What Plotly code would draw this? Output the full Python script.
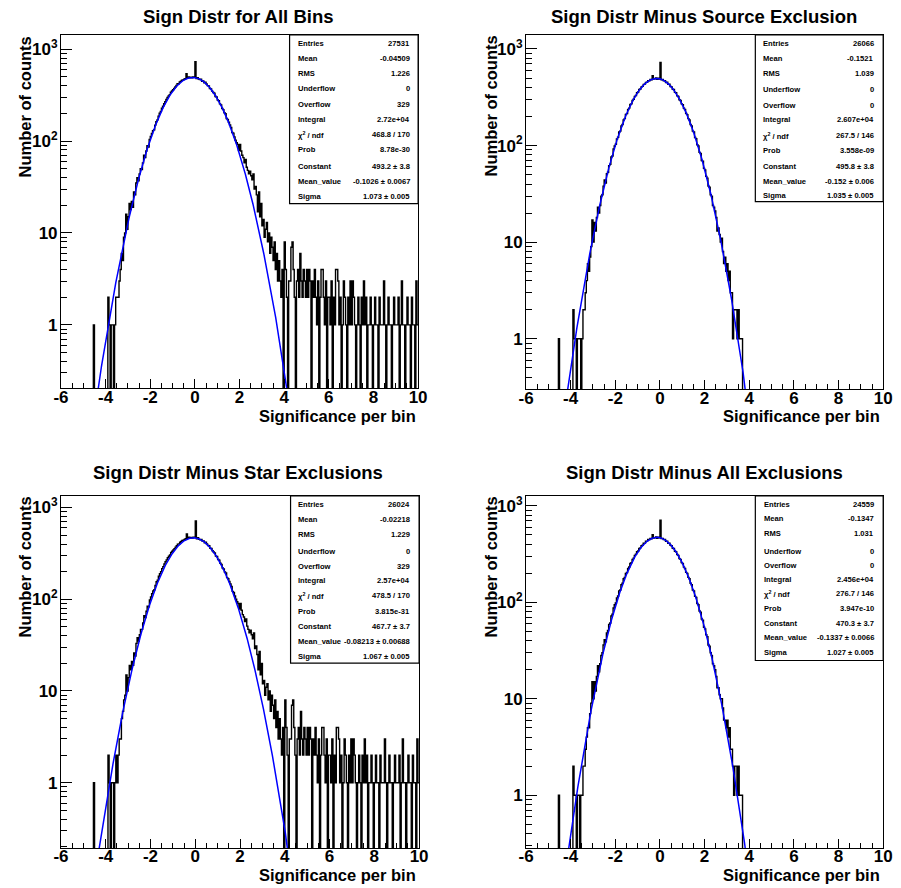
import numpy as np
import plotly.graph_objects as go

W, H = 901, 888

# ---------------- data ----------------
bin_lo, bin_hi, n_bins = -6.0, 10.0, 320

titles = ["Sign Distr for All Bins", "Sign Distr Minus Source Exclusion",
          "Sign Distr Minus Star Exclusions", "Sign Distr Minus All Exclusions"]
x_title = "Significance per bin"
y_title = "Number of counts"

# counts per bin (bin width 0.05, 20 bins per unit of x)
p1_counts = [
    0,0,0,0,0,0,0,0,0,0, 0,0,0,0,0,0,0,0,0,0,
    0,0,0,0,0,0,0,0,0,1, 0,0,0,0,0,0,0,0,0,0,
    0,0,2,1,0,1,1,0,1,2, 2,2,3,4,6,5,9,10,16,11,
    15,21,18,22,19,28,26,35,40,37, 44,50,49,58,70,66,78,89,86,104,
    112,121,130,133,149,163,170,187,201,210, 228,239,255,269,283,298,309,320,341,352,
    362,375,388,402,420,421,441,447,459,462, 470,478,540,486,498,488,497,489,500,493,
    730,478,490,472,466,470,448,452,430,437, 418,401,398,374,370,350,338,331,305,302,
    280,275,254,248,226,220,203,198,176,172, 160,150,141,124,122,111,102,96,92,79,
    92,78,70,66,58,63,52,48,44,47, 42,38,44,30,32,26,17,28,15,21,
    12,14,9,11,13,8,10,6,9,7, 5,8,4,6,3,5,3,2,4,0,
    8,4,2,0,3,3,7,8,4,2, 0,3,4,2,6,3,2,4,3,2,
    4,2,4,3,0,3,2,4,2,1, 3,0,2,4,4,2,1,3,0,2,
    2,1,3,0,2,1,4,4,3,1, 2,0,1,3,2,1,0,2,1,3,
    1,3,2,1,0,1,2,1,0,2, 1,3,1,2,0,1,1,2,1,0,
    1,2,1,1,0,2,1,1,1,3, 1,0,1,2,1,1,0,1,2,1,
    1,1,2,0,1,3,1,1,0,1, 2,1,1,0,2,1,1,0,3,1,
]
p2_counts = [
    0,0,0,0,0,0,0,0,0,0, 0,0,0,0,0,0,0,0,0,0,
    0,0,0,0,0,0,0,0,0,1, 0,0,0,0,0,0,0,0,0,0,
    0,0,2,1,1,0,1,1,1,0, 1,2,2,3,4,6,5,7,9,17,
    10,16,13,18,23,20,24,30,31,38, 44,41,51,53,62,64,76,78,92,99,
    103,117,122,138,141,160,165,184,190,210, 214,236,244,266,270,293,301,322,330,352,
    358,380,385,405,410,430,432,451,452,470, 468,482,478,530,488,490,500,484,498,488,
    725,480,482,468,470,450,452,430,431,408, 405,382,380,355,352,328,322,298,293,270,
    265,243,236,215,209,190,184,165,160,141, 138,121,118,102,99,85,83,70,69,58,
    56,48,46,38,37,31,30,24,23,21, 18,13,14,12,10,11,8,6,7,5,
    6,4,5,3,3,1,2,2,2,1, 2,1,1,1,0,0,0,0,0,0,
    0,0,0,0,0,0,0,0,0,0, 0,0,0,0,0,0,0,0,0,0,
    0,0,0,0,0,0,0,0,0,0, 0,0,0,0,0,0,0,0,0,0,
    0,0,0,0,0,0,0,0,0,0, 0,0,0,0,0,0,0,0,0,0,
    0,0,0,0,0,0,0,0,0,0, 0,0,0,0,0,0,0,0,0,0,
    0,0,0,0,0,0,0,0,0,0, 0,0,0,0,0,0,0,0,0,0,
    0,0,0,0,0,0,0,0,0,0, 0,0,0,0,0,0,0,0,0,0,
]
p3_counts = [
    0,0,0,0,0,0,0,0,0,0, 0,0,0,0,0,0,0,0,0,0,
    0,0,0,0,0,0,0,0,0,1, 0,0,0,0,0,0,0,0,0,0,
    0,0,2,1,0,1,1,0,1,2, 1,2,3,3,5,6,8,9,15,10,
    14,19,17,21,19,26,24,33,38,35, 41,47,47,55,66,63,74,84,83,98,
    106,115,123,127,141,155,161,178,190,200, 216,227,242,256,269,283,294,304,324,334,
    344,356,369,383,399,401,419,426,437,440, 448,456,515,463,474,466,473,466,476,470,
    712,456,468,450,446,449,430,433,412,419, 401,386,383,360,357,338,327,320,295,292,
    271,267,247,240,219,214,198,193,172,168, 156,147,138,122,119,109,100,94,90,78,
    90,76,68,64,57,61,51,47,43,46, 41,37,43,29,31,25,17,27,15,20,
    12,13,9,11,12,8,10,6,9,7, 5,8,4,6,3,5,3,2,4,0,
    8,4,2,0,3,3,7,8,4,2, 0,3,4,2,6,3,2,4,3,2,
    4,2,4,3,0,3,2,4,2,1, 3,0,2,4,4,2,1,3,0,2,
    2,1,3,0,2,1,4,4,3,1, 2,0,1,3,2,1,0,2,1,3,
    1,3,2,1,0,1,2,1,0,2, 1,3,1,2,0,1,1,2,1,0,
    1,2,1,1,0,2,1,1,1,3, 1,0,1,2,1,1,0,1,2,1,
    1,1,2,0,1,3,1,1,0,1, 2,1,1,0,2,1,1,0,3,1,
]
p4_counts = [
    0,0,0,0,0,0,0,0,0,0, 0,0,0,0,0,0,0,0,0,0,
    0,0,0,0,0,0,0,0,0,1, 0,0,0,0,0,0,0,0,0,0,
    0,0,2,1,1,0,1,1,0,1, 1,2,2,3,4,5,5,7,9,15,
    10,15,12,17,22,19,23,28,30,36, 41,39,48,51,59,61,72,75,87,94,
    98,111,116,131,134,152,157,175,181,199, 203,224,232,252,257,278,286,306,314,334,
    340,361,366,385,390,408,410,428,430,446, 445,458,454,500,463,466,475,460,473,464,
    710,456,458,445,446,428,429,409,409,388, 385,363,361,337,334,312,306,283,278,257,
    252,231,224,204,199,181,175,157,152,134, 131,115,112,97,94,81,79,67,65,55,
    53,46,44,36,35,30,28,23,22,20, 17,13,13,11,10,10,8,6,6,5,
    6,4,5,3,3,2,1,2,2,1, 2,1,1,1,0,0,0,0,0,0,
    0,0,0,0,0,0,0,0,0,0, 0,0,0,0,0,0,0,0,0,0,
    0,0,0,0,0,0,0,0,0,0, 0,0,0,0,0,0,0,0,0,0,
    0,0,0,0,0,0,0,0,0,0, 0,0,0,0,0,0,0,0,0,0,
    0,0,0,0,0,0,0,0,0,0, 0,0,0,0,0,0,0,0,0,0,
    0,0,0,0,0,0,0,0,0,0, 0,0,0,0,0,0,0,0,0,0,
    0,0,0,0,0,0,0,0,0,0, 0,0,0,0,0,0,0,0,0,0,
]

# Gaussian fit parameters (Constant, Mean_value, Sigma)
fit_constant = [493.2, 495.8, 467.7, 470.3]
fit_mean = [-0.1026, -0.152, -0.08213, -0.1337]
fit_sigma = [1.073, 1.035, 1.067, 1.027]

stat_labels = ["Entries", "Mean", "RMS", "Underflow", "Overflow", "Integral",
               "\u03c7<sup>2</sup> / ndf", "Prob", "Constant", "Mean_value", "Sigma"]
p1_stats = ["27531", "-0.04509", "1.226", "0", "329", "2.72e+04", "468.8 / 170",
            "8.78e-30", "493.2 \u00b1 3.8", "-0.1026 \u00b1 0.0067", "1.073 \u00b1 0.005"]
p2_stats = ["26066", "-0.1521", "1.039", "0", "0", "2.607e+04", "267.5 / 146",
            "3.558e-09", "495.8 \u00b1 3.8", "-0.152 \u00b1 0.006", "1.035 \u00b1 0.005"]
p3_stats = ["26024", "-0.02218", "1.229", "0", "329", "2.57e+04", "478.5 / 170",
            "3.815e-31", "467.7 \u00b1 3.7", "-0.08213 \u00b1 0.00688", "1.067 \u00b1 0.005"]
p4_stats = ["24559", "-0.1347", "1.031", "0", "0", "2.456e+04", "276.7 / 146",
            "3.947e-10", "470.3 \u00b1 3.7", "-0.1337 \u00b1 0.0066", "1.027 \u00b1 0.005"]

x_tickvals = [-6, -4, -2, 0, 2, 4, 6, 8, 10]
x_ticktext = ["-6", "-4", "-2", "0", "2", "4", "6", "8", "10"]
y_tickvals = [1, 10, 100, 1000]
y_ticktext = ["1", "10", "10<sup>2</sup>", "10<sup>3</sup>"]

counts_list = [p1_counts, p2_counts, p3_counts, p4_counts]
stats_list = [p1_stats, p2_stats, p3_stats, p4_stats]

# ---------------- layout geometry (pixels) ----------------
frames = [
    dict(l=54, r=418, t=33, b=387, yr=[-0.688, 3.155]),
    dict(l=528, r=892, t=33, b=388, yr=[-0.521, 3.145]),
    dict(l=54, r=419, t=495, b=848, yr=[-0.713, 3.127]),
    dict(l=528, r=892, t=495, b=848, yr=[-0.548, 3.102]),
]
title_pos = [(234.7, 15), (709.5, 15), (234.5, 471.7), (709.5, 471.7)]
ytitle_pos = [(17, 105), (492, 104), (17, 566), (492, 566)]
xtitle_pos = [(418, 415), (891, 414.5), (418, 875), (891, 875)]
boxes = [
    dict(l=287, r=418, t=33, b=202, lx=294, vx=411.5,
         ys=[42, 57, 72, 87, 103, 117.3, 133, 148, 164.7, 179.7, 194.7]),
    dict(l=761.7, r=892, t=33, b=200, lx=767.5, vx=885,
         ys=[42, 57, 72, 88, 104, 118, 134, 149, 165, 180, 194]),
    dict(l=288, r=419, t=495, b=662.7, lx=294, vx=412,
         ys=[503.3, 518.3, 533.3, 550.3, 565.3, 580, 595, 611.3, 626.3, 641, 656]),
    dict(l=761.7, r=892, t=495, b=660, lx=768, vx=885,
         ys=[503.3, 517.7, 532.3, 550.3, 564.7, 579, 593.3, 608, 622.7, 637, 652]),
]

FONT = "Liberation Sans"


def px(x):
    return x / W


def py(y):
    return 1 - y / H


edges = np.linspace(bin_lo, bin_hi, n_bins + 1)
x_minor = [v for v in np.arange(-6, 10.001, 0.5) if abs(v / 2 - round(v / 2)) > 1e-9]
y_minor = [m * 10 ** e for e in range(-1, 4) for m in range(2, 10)]

fig = go.Figure()
annotations = []
shapes = []
layout_axes = {}

for p in range(4):
    sfx = "" if p == 0 else str(p + 1)
    xa, ya = "x" + sfx, "y" + sfx
    fr = frames[p]
    counts = np.array(counts_list[p], dtype=float)
    y_plot = np.where(counts > 0, counts, 1e-4)
    y_plot = np.append(y_plot, y_plot[-1])
    fig.add_trace(go.Scatter(x=edges, y=y_plot, mode="lines",
                             line=dict(shape="hv", color="black", width=1.4),
                             xaxis=xa, yaxis=ya, showlegend=False, hoverinfo="skip"))
    xf = np.linspace(bin_lo, bin_hi, 1601)
    yf = fit_constant[p] * np.exp(-0.5 * ((xf - fit_mean[p]) / fit_sigma[p]) ** 2)
    fig.add_trace(go.Scatter(x=xf, y=np.maximum(yf, 1e-6), mode="lines",
                             line=dict(color="#0000ff", width=1.5),
                             xaxis=xa, yaxis=ya, showlegend=False, hoverinfo="skip"))

    tickfont = dict(family=FONT, size=17, color="black", weight="bold")
    layout_axes["xaxis" + sfx] = dict(
        domain=[px(fr["l"]), px(fr["r"])], anchor=ya, range=[bin_lo, bin_hi],
        tickmode="array", tickvals=x_tickvals, ticktext=x_ticktext,
        ticks="inside", ticklen=9, tickwidth=1, tickcolor="black",
        ticklabelstandoff=-7,
        minor=dict(tickmode="array", tickvals=x_minor, ticks="inside", ticklen=5,
                   tickwidth=1, tickcolor="black", showgrid=False),
        showline=True, linecolor="black", linewidth=1, mirror=True,
        showgrid=False, zeroline=False, tickfont=tickfont, fixedrange=True)
    layout_axes["yaxis" + sfx] = dict(
        domain=[py(fr["b"]), py(fr["t"])], anchor=xa, type="log", range=fr["yr"],
        tickmode="array", tickvals=y_tickvals, ticktext=y_ticktext,
        ticks="inside", ticklen=11, tickwidth=1, tickcolor="black",
        ticklabelstandoff=-1,
        minor=dict(tickmode="array", tickvals=y_minor, ticks="inside", ticklen=6,
                   tickwidth=1, tickcolor="black", showgrid=False),
        showline=True, linecolor="black", linewidth=1, mirror=True,
        showgrid=False, zeroline=False, tickfont=tickfont, fixedrange=True)

    tx, ty = title_pos[p]
    annotations.append(dict(text=titles[p], x=px(tx), y=py(ty), xref="paper", yref="paper",
                            xanchor="center", yanchor="middle", showarrow=False,
                            font=dict(family=FONT, size=18.5, color="black", weight="bold")))
    yx, yy = ytitle_pos[p]
    annotations.append(dict(text=y_title, x=px(yx), y=py(yy), xref="paper", yref="paper",
                            xanchor="center", yanchor="middle", showarrow=False, textangle=-90,
                            font=dict(family=FONT, size=16.5, color="black", weight="bold")))
    xx, xy = xtitle_pos[p]
    annotations.append(dict(text=x_title, x=px(xx), y=py(xy), xref="paper", yref="paper",
                            xanchor="right", yanchor="middle", showarrow=False,
                            font=dict(family=FONT, size=16.5, color="black", weight="bold")))

    bx = boxes[p]
    shapes.append(dict(type="rect", xref="paper", yref="paper",
                       x0=px(bx["l"]), x1=px(bx["r"]), y0=py(bx["b"]), y1=py(bx["t"]),
                       line=dict(color="black", width=1.2), fillcolor="white", layer="above"))
    for lab, val, yy_ in zip(stat_labels, stats_list[p], bx["ys"]):
        sf = dict(family=FONT, size=7.6, color="black", weight="bold")
        annotations.append(dict(text=lab, x=px(bx["lx"]), y=py(yy_), xref="paper", yref="paper",
                                xanchor="left", yanchor="middle", showarrow=False, font=sf))
        annotations.append(dict(text=val, x=px(bx["vx"]), y=py(yy_), xref="paper", yref="paper",
                                xanchor="right", yanchor="middle", showarrow=False, font=sf))

fig.update_layout(
    width=W, height=H, margin=dict(l=0, r=0, t=0, b=0),
    paper_bgcolor="white", plot_bgcolor="white",
    annotations=annotations, shapes=shapes, showlegend=False,
    **layout_axes,
)

fig.write_html("out.html")
